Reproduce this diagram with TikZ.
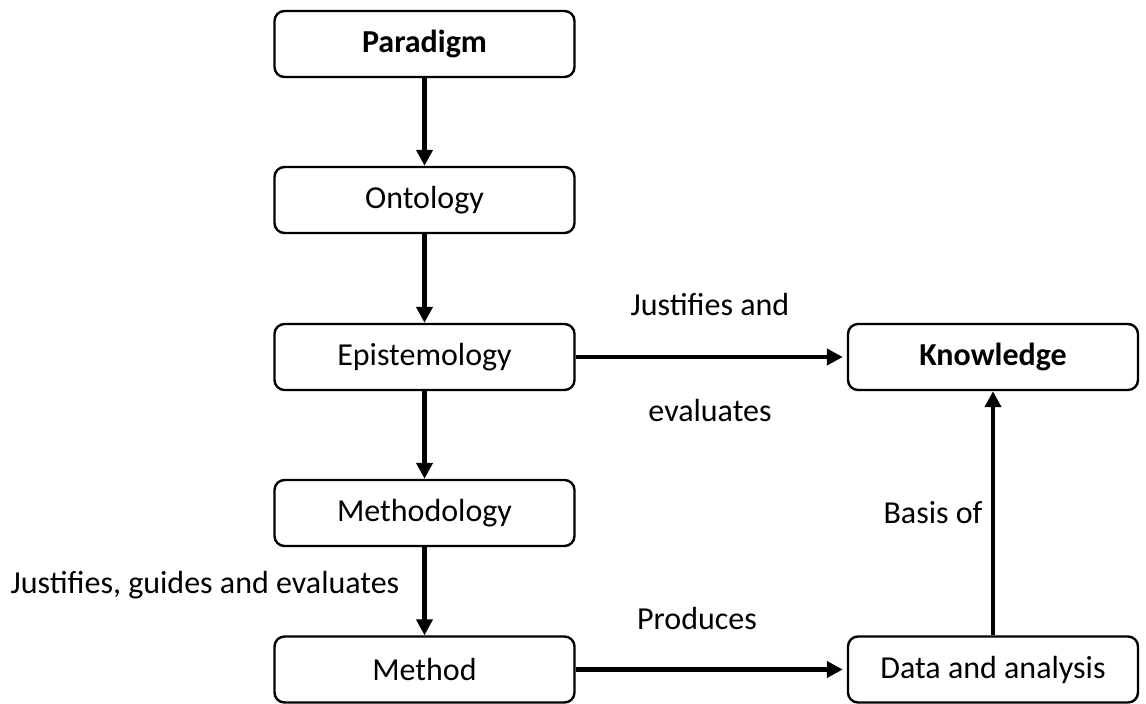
\documentclass[tikz,border=0pt]{standalone}
\usepackage{fontspec}
\setmainfont{Carlito}
\usetikzlibrary{arrows.meta}
\begin{document}
\begin{tikzpicture}[x=1pt,y=-1pt,
  box/.style={draw, line width=2.4pt, rounded corners=10pt, minimum height=66pt, inner sep=0pt, font=\fontsize{32}{38}\selectfont},
  lbox/.style={box, minimum width=300pt},
  rbox/.style={box, minimum width=290pt},
  conn/.style={line width=4.6pt, -{Triangle[length=16pt,width=16pt]}},
  lab/.style={font=\fontsize{32}{38}\selectfont, inner sep=0pt}]
\useasboundingbox (0,0) rectangle (1146,704);
\node[lbox] (par) at (424.5,44) {\textbf{Paradigm}};
\node[lbox] (ont) at (424.5,200) {Ontology};
\node[lbox] (epi) at (424.5,357) {Epistemology};
\node[lbox] (meth) at (424.5,513) {Methodology};
\node[lbox] (mtd) at (424.5,669.5) {Method};
\node[rbox] (kno) at (993,357) {\textbf{Knowledge}};
\node[rbox] (dat) at (993,669.5) {Data and analysis};
\draw[conn] (par) -- (ont);
\draw[conn] (ont) -- (epi);
\draw[conn] (epi) -- (meth);
\draw[conn] (meth) -- (mtd);
\draw[conn, shorten >=4pt] (epi) -- (kno);
\draw[conn, shorten >=4pt] (mtd) -- (dat);
\draw[conn] (dat) -- (kno);
\node[lab] (l1) at (710,305) {Justifies and};
\node[lab] (l2) at (710,411) {evaluates};
\node[lab] (l3) at (205,585) {Justifies, guides and evaluates};
\node[lab] (l4) at (697,619) {Produces};
\node[lab] (l5) at (933,513) {Basis of};
\end{tikzpicture}
\end{document}
